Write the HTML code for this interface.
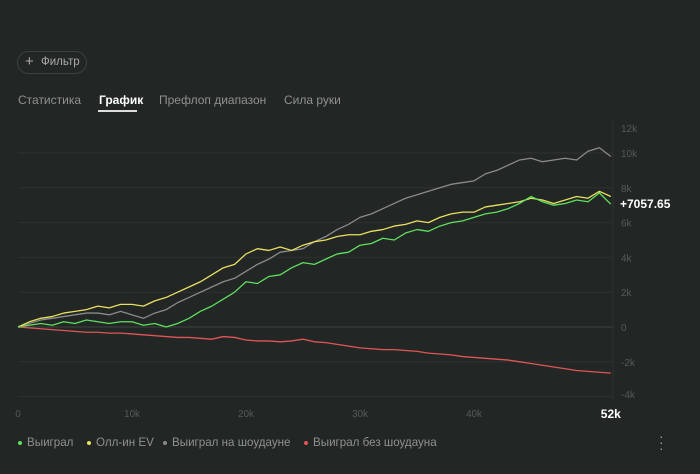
<!DOCTYPE html>
<html><head><meta charset="utf-8"><style>
body{margin:0;width:700px;height:474px;background:#222625;font-family:"Liberation Sans",sans-serif;overflow:hidden;position:relative;color:#9a9d9c}
.filter{position:absolute;left:17px;top:51px;width:68px;height:21px;border:1px solid #3c403f;border-radius:12px;font-size:11.5px;color:#a8abaa;line-height:21px;box-sizing:content-box}
.tab{position:absolute;top:93px;font-size:12px;color:#8e9190}
.leg{position:absolute;top:436px;font-size:11.6px;color:#8e9190}
.dot{display:inline-block;width:4px;height:4px;border-radius:2px;margin-right:5px;vertical-align:middle}
</style></head><body>
<div class="filter"><span style="position:absolute;left:7px;top:-1px;font-size:15px">+</span><span style="position:absolute;left:23px">Фильтр</span></div>
<div class="tab" style="left:18px">Статистика</div>
<div class="tab" style="left:99px;color:#fff;font-weight:bold">График</div>
<div style="position:absolute;left:98px;top:110px;width:39px;height:2px;background:#ddd"></div>
<div class="tab" style="left:159px">Префлоп диапазон</div>
<div class="tab" style="left:284px">Сила руки</div>
<svg id="chart" width="700" height="474" style="position:absolute;left:0;top:0"></svg>
<div class="leg" style="left:18px"><span class="dot" style="background:#5ee05e"></span>Выиграл</div>
<div class="leg" style="left:87px"><span class="dot" style="background:#e8e060"></span>Олл-ин EV</div>
<div class="leg" style="left:163px"><span class="dot" style="background:#888"></span>Выиграл на шоудауне</div>
<div class="leg" style="left:304px"><span class="dot" style="background:#e05555"></span>Выиграл без шоудауна</div>
<div style="position:absolute;left:659px;top:433px;font-size:14px;color:#999;line-height:6px">·<br>·<br>·</div>
<script>
const xTicks=[0,10,20,30,40];
const xTickLabels=["0","10k","20k","30k","40k"];
const yTicks=[-4,-2,0,2,4,6,8,10,12];
const yTickLabels=["-4k","-2k","0","2k","4k","6k","8k","10k","12k"];
const won=[0,0.1,0.2,0.1,0.3,0.2,0.4,0.3,0.2,0.3,0.3,0.1,0.2,0.0,0.2,0.5,0.9,1.2,1.6,2.0,2.6,2.5,2.9,3.0,3.4,3.7,3.6,3.9,4.2,4.3,4.7,4.8,5.1,5.0,5.4,5.6,5.5,5.8,6.0,6.1,6.3,6.5,6.6,6.8,7.1,7.5,7.2,7.0,7.1,7.3,7.2,7.7,7.06];
const allinEv=[0,0.3,0.5,0.6,0.8,0.9,1.0,1.2,1.1,1.3,1.3,1.2,1.5,1.7,2.0,2.3,2.6,3.0,3.4,3.6,4.2,4.5,4.4,4.6,4.4,4.7,4.9,5.0,5.2,5.3,5.3,5.5,5.6,5.8,5.9,6.1,6.0,6.3,6.5,6.6,6.6,6.9,7.0,7.1,7.2,7.4,7.3,7.1,7.3,7.5,7.4,7.8,7.5];
const showdown=[0,0.2,0.4,0.5,0.6,0.7,0.8,0.8,0.7,0.9,0.7,0.5,0.8,1.0,1.4,1.7,2.0,2.3,2.6,2.8,3.2,3.6,3.9,4.3,4.4,4.5,4.9,5.2,5.6,5.9,6.3,6.5,6.8,7.1,7.4,7.6,7.8,8.0,8.2,8.3,8.4,8.8,9.0,9.3,9.6,9.7,9.5,9.6,9.7,9.6,10.1,10.3,9.8];
const nonShowdown=[0,-0.05,-0.1,-0.15,-0.2,-0.25,-0.3,-0.3,-0.35,-0.35,-0.4,-0.45,-0.5,-0.55,-0.6,-0.6,-0.65,-0.7,-0.55,-0.6,-0.75,-0.8,-0.8,-0.85,-0.8,-0.7,-0.85,-0.9,-1.0,-1.1,-1.2,-1.25,-1.3,-1.3,-1.35,-1.4,-1.5,-1.55,-1.6,-1.7,-1.75,-1.8,-1.85,-1.9,-2.0,-2.1,-2.2,-2.3,-2.4,-2.5,-2.55,-2.6,-2.65];
const NS="http://www.w3.org/2000/svg";
const svg=document.getElementById('chart');
const X=v=>18+v*11.4, Y=v=>327-v*17.4;
function mk(t,a){const e=document.createElementNS(NS,t);for(const k in a)e.setAttribute(k,a[k]);svg.appendChild(e);return e;}
yTicks.forEach((t,i)=>{
  if(t>=-4&&t<=10){const l=mk('line',{x1:18,x2:613,y1:Y(t),y2:Y(t),stroke:t===0?'#3d4241':'#2d3130','stroke-width':1});
  
  }
  let ty=Y(t)+4; if(t===12)ty=132; if(t===-4)ty=398;
  const tx=mk('text',{x:621,y:ty,fill:'#555a59','font-size':10,'font-family':'Liberation Sans'});tx.textContent=yTickLabels[i];
  
  
});
const vl=mk('line',{x1:613,x2:613,y1:119,y2:400,stroke:'#2d3130'});


xTicks.forEach((t,i)=>{const tx=mk('text',{x:X(t),y:417,fill:'#555a59','font-size':10,'font-family':'Liberation Sans','text-anchor':'middle'});tx.textContent=xTickLabels[i];
  
  });
const xe=mk('text',{x:X(52),y:418,fill:'#fff','font-size':12,'font-weight':'bold','font-family':'Liberation Sans','text-anchor':'middle'});xe.textContent='52k';


[[nonShowdown,'#e05555','line-non-showdown'],[showdown,'#8a8a8a','line-showdown'],[allinEv,'#e8e060','line-allin-ev'],[won,'#5ee05e','line-won']].forEach(([d,c,n])=>{
  const p=mk('polyline',{points:d.map((v,i)=>X(i)+','+Y(v)).join(' '),fill:'none',stroke:c,'stroke-width':1.3,'stroke-linejoin':'round'});
  
  
});
const vlab=mk('text',{x:620,y:Y(won[won.length-1])+4,fill:'#fff','font-size':12,'font-weight':'bold','font-family':'Liberation Sans'});vlab.textContent='+7057.65';


</script>
</body></html>
